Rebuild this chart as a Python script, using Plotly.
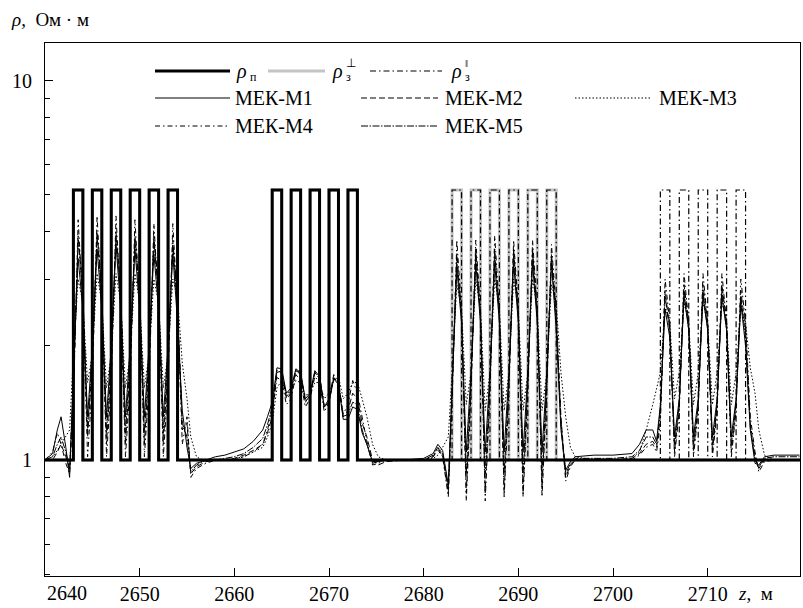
import plotly.graph_objects as go

# ---------------- data ----------------
# step profiles: layer boundaries (z, m) and resistivity (Ohm*m) to the right of each boundary
rho_p_z = [2640, 2643, 2644, 2645, 2646, 2647, 2648, 2649, 2650, 2651, 2652, 2653, 2654,
           2664, 2665, 2666, 2667, 2668, 2669, 2670, 2671, 2672, 2673, 2719.75]
rho_p_v = [1, 5.15, 1, 5.15, 1, 5.15, 1, 5.15, 1, 5.15, 1, 5.15, 1,
           5.15, 1, 5.15, 1, 5.15, 1, 5.15, 1, 5.15, 1, 1]

rho_perp_z = [2640, 2643, 2644, 2645, 2646, 2647, 2648, 2649, 2650, 2651, 2652, 2653, 2654,
              2664, 2665, 2666, 2667, 2668, 2669, 2670, 2671, 2672, 2673,
              2683, 2684, 2685, 2686, 2687, 2688, 2689, 2690, 2691, 2692, 2693, 2694, 2719.75]
rho_perp_v = [1, 5.15, 1, 5.15, 1, 5.15, 1, 5.15, 1, 5.15, 1, 5.15, 1,
              5.15, 1, 5.15, 1, 5.15, 1, 5.15, 1, 5.15, 1,
              5.15, 1, 5.15, 1, 5.15, 1, 5.15, 1, 5.15, 1, 5.15, 1, 1]

rho_par_z = [2640, 2643, 2644, 2645, 2646, 2647, 2648, 2649, 2650, 2651, 2652, 2653, 2654,
             2664, 2665, 2666, 2667, 2668, 2669, 2670, 2671, 2672, 2673,
             2683, 2684, 2685, 2686, 2687, 2688, 2689, 2690, 2691, 2692, 2693, 2694,
             2705, 2706, 2707, 2708, 2709, 2710, 2711, 2712, 2713, 2714, 2719.75]
rho_par_v = [1, 5.15, 1, 5.15, 1, 5.15, 1, 5.15, 1, 5.15, 1, 5.15, 1,
             5.15, 1, 5.15, 1, 5.15, 1, 5.15, 1, 5.15, 1,
             5.15, 1, 5.15, 1, 5.15, 1, 5.15, 1, 5.15, 1, 5.15, 1,
             5.15, 1, 5.15, 1, 5.15, 1, 5.15, 1, 5.15, 1, 1]

# depth samples for the tool responses
z_mek = [2640.0, 2640.8, 2641.3, 2641.7, 2642.2, 2642.6,
         2643.0, 2643.5, 2644.0, 2644.5, 2645.0, 2645.5, 2646.0, 2646.5, 2647.0, 2647.5, 2648.0, 2648.5,
         2649.0, 2649.5, 2650.0, 2650.5, 2651.0, 2651.5, 2652.0, 2652.5, 2653.0, 2653.5, 2654.0, 2654.5,
         2655.0, 2655.4, 2656.0, 2657.0, 2658.0, 2659.0, 2660.0, 2661.0, 2662.0, 2663.0, 2663.5,
         2664.0, 2664.5, 2665.0, 2665.5, 2666.0, 2666.5, 2667.0, 2667.5, 2668.0, 2668.5,
         2669.0, 2669.5, 2670.0, 2670.5, 2671.0, 2671.5, 2672.0, 2672.5, 2673.0, 2673.5,
         2674.0, 2674.6, 2675.2, 2676.0, 2678.0, 2680.0, 2681.0, 2681.5, 2682.0, 2682.6,
         2683.0, 2683.5, 2684.0, 2684.5, 2685.0, 2685.5, 2686.0, 2686.5, 2687.0, 2687.5, 2688.0, 2688.5,
         2689.0, 2689.5, 2690.0, 2690.5, 2691.0, 2691.5, 2692.0, 2692.5, 2693.0, 2693.5, 2694.0, 2694.5,
         2695.0, 2695.5, 2696.0, 2698.0, 2700.0, 2702.0, 2702.8, 2703.5, 2704.2, 2704.6,
         2705.0, 2705.5, 2706.0, 2706.5, 2707.0, 2707.5, 2708.0, 2708.5, 2709.0, 2709.5,
         2710.0, 2710.5, 2711.0, 2711.5, 2712.0, 2712.5, 2713.0, 2713.5, 2714.0, 2714.5,
         2715.0, 2715.4, 2716.0, 2717.0, 2719.7]

mek_m1 = [1.0, 1.04, 1.2, 1.3, 1.08, 0.9,
          1.7, 3.4, 2.5, 1.3, 2.0, 3.6, 2.5, 1.3, 2.0, 3.7, 2.5, 1.3, 2.0, 3.6, 2.5, 1.3, 2.0, 3.5, 2.5, 1.3, 2.0, 3.5, 2.3, 1.35,
          1.08, 0.95, 0.98, 1.0, 1.02, 1.03, 1.05, 1.07, 1.12, 1.2, 1.3,
          1.42, 1.75, 1.74, 1.5, 1.55, 1.74, 1.7, 1.45, 1.5, 1.72, 1.66, 1.38, 1.42, 1.64, 1.58, 1.28, 1.28, 1.38, 1.36, 1.18,
          1.1, 0.99, 0.99, 1.0, 1.0, 1.01, 1.04, 1.1, 1.06, 0.86,
          1.6, 3.2, 2.3, 1.05, 1.7, 3.3, 2.3, 1.05, 1.7, 3.3, 2.3, 1.05, 1.7, 3.3, 2.3, 1.05, 1.7, 3.3, 2.3, 1.05, 1.7, 3.3, 2.2, 1.2,
          0.94, 0.99, 1.02, 1.03, 1.03, 1.04, 1.1, 1.2, 1.2, 1.12,
          1.4, 2.5, 2.1, 1.15, 1.45, 2.7, 2.2, 1.15, 1.45, 2.7, 2.2, 1.15, 1.45, 2.7, 2.2, 1.15, 1.45, 2.6, 2.0, 1.2,
          0.98, 0.97, 1.02, 1.03, 1.03]

mek_m2 = [1.0, 1.0, 1.05, 1.1, 1.02, 0.95,
          1.5, 3.9, 2.8, 1.15, 1.8, 4.0, 2.8, 1.1, 1.8, 4.0, 2.8, 1.1, 1.8, 3.9, 2.8, 1.1, 1.8, 3.9, 2.8, 1.1, 1.8, 3.8, 2.6, 1.2,
          1.25, 0.92, 0.96, 0.99, 1.0, 1.0, 1.01, 1.03, 1.06, 1.1, 1.18,
          1.3, 1.7, 1.72, 1.45, 1.5, 1.72, 1.7, 1.42, 1.48, 1.7, 1.68, 1.38, 1.45, 1.68, 1.62, 1.3, 1.35, 1.5, 1.45, 1.25,
          1.15, 1.0, 0.97, 0.99, 1.0, 1.0, 1.02, 1.06, 1.03, 0.82,
          1.5, 3.5, 2.4, 0.82, 1.6, 3.6, 2.4, 0.82, 1.6, 3.6, 2.4, 0.82, 1.6, 3.6, 2.4, 0.82, 1.6, 3.6, 2.4, 0.84, 1.6, 3.5, 2.4, 1.3,
          0.9, 0.97, 1.0, 1.0, 1.0, 1.01, 1.04, 1.1, 1.12, 1.08,
          1.3, 2.8, 2.2, 1.05, 1.4, 2.9, 2.3, 1.05, 1.4, 2.9, 2.3, 1.05, 1.4, 2.9, 2.3, 1.05, 1.4, 2.8, 2.2, 1.25,
          1.02, 0.95, 1.0, 1.0, 1.0]

mek_m3 = [1.0, 1.02, 1.06, 1.1, 1.15, 1.2,
          1.9, 3.0, 2.6, 1.6, 1.9, 3.1, 2.6, 1.55, 1.9, 3.1, 2.6, 1.55, 1.9, 3.1, 2.6, 1.55, 1.9, 3.0, 2.6, 1.55, 1.9, 3.0, 2.7, 1.8,
          1.45, 1.15, 1.02, 0.99, 1.0, 1.0, 1.01, 1.02, 1.05, 1.08, 1.15,
          1.25, 1.55, 1.62, 1.5, 1.52, 1.62, 1.6, 1.48, 1.5, 1.6, 1.6, 1.45, 1.5, 1.62, 1.66, 1.45, 1.5, 1.6, 1.6, 1.45,
          1.3, 1.1, 1.02, 1.0, 1.0, 1.0, 1.01, 1.03, 1.08, 1.15,
          1.7, 2.9, 2.5, 1.4, 1.7, 3.0, 2.5, 1.35, 1.7, 3.0, 2.5, 1.35, 1.7, 3.0, 2.5, 1.35, 1.7, 3.0, 2.5, 1.35, 1.7, 2.9, 2.6, 1.7,
          1.3, 1.08, 1.02, 1.0, 1.0, 1.01, 1.05, 1.2, 1.4, 1.55,
          1.7, 2.5, 2.3, 1.45, 1.7, 2.6, 2.3, 1.4, 1.7, 2.6, 2.3, 1.4, 1.7, 2.6, 2.3, 1.4, 1.7, 2.5, 2.3, 1.75,
          1.5, 1.2, 1.03, 1.0, 1.0]

mek_m4 = [1.0, 1.05, 1.18, 1.1, 0.98, 0.92,
          1.4, 4.3, 2.6, 1.02, 1.6, 4.4, 2.6, 1.02, 1.6, 4.4, 2.6, 1.02, 1.6, 4.3, 2.6, 1.02, 1.6, 4.2, 2.6, 1.02, 1.6, 4.2, 2.5, 1.1,
          1.3, 0.9, 0.95, 0.98, 1.0, 1.0, 1.0, 1.02, 1.05, 1.1, 1.2,
          1.35, 1.65, 1.62, 1.4, 1.45, 1.68, 1.62, 1.38, 1.45, 1.66, 1.6, 1.34, 1.42, 1.64, 1.6, 1.32, 1.4, 1.62, 1.5, 1.3,
          1.12, 0.97, 0.98, 1.0, 1.0, 1.0, 1.02, 1.08, 1.02, 0.8,
          1.4, 3.8, 2.5, 0.78, 1.5, 3.8, 2.5, 0.78, 1.5, 3.9, 2.5, 0.8, 1.5, 3.8, 2.5, 0.8, 1.5, 3.8, 2.5, 0.8, 1.5, 3.7, 2.5, 1.25,
          0.88, 0.96, 1.0, 1.0, 1.0, 1.0, 1.03, 1.08, 1.1, 1.05,
          1.25, 3.0, 2.3, 1.02, 1.35, 3.1, 2.3, 1.02, 1.35, 3.1, 2.3, 1.02, 1.35, 3.1, 2.3, 1.02, 1.35, 3.0, 2.3, 1.3,
          1.05, 0.93, 0.99, 1.0, 1.0]

mek_m5 = [1.0, 1.02, 1.1, 1.15, 1.05, 0.95,
          1.6, 3.8, 2.7, 1.2, 1.9, 3.9, 2.7, 1.18, 1.9, 3.9, 2.7, 1.18, 1.9, 3.8, 2.7, 1.18, 1.9, 3.8, 2.7, 1.18, 1.9, 3.7, 2.5, 1.25,
          1.15, 0.93, 0.97, 1.0, 1.0, 1.01, 1.02, 1.04, 1.08, 1.14, 1.24,
          1.38, 1.72, 1.7, 1.47, 1.52, 1.72, 1.68, 1.43, 1.48, 1.7, 1.64, 1.38, 1.43, 1.65, 1.6, 1.3, 1.32, 1.42, 1.4, 1.2,
          1.1, 0.98, 0.99, 1.0, 1.0, 1.0, 1.03, 1.08, 1.04, 0.84,
          1.5, 3.4, 2.4, 0.92, 1.6, 3.5, 2.4, 0.92, 1.6, 3.5, 2.4, 0.92, 1.6, 3.5, 2.4, 0.92, 1.6, 3.5, 2.4, 0.92, 1.6, 3.4, 2.3, 1.25,
          0.92, 0.98, 1.01, 1.01, 1.01, 1.02, 1.06, 1.15, 1.15, 1.1,
          1.35, 2.7, 2.2, 1.1, 1.4, 2.8, 2.2, 1.1, 1.4, 2.8, 2.2, 1.1, 1.4, 2.8, 2.2, 1.1, 1.4, 2.7, 2.1, 1.22,
          1.0, 0.96, 1.01, 1.02, 1.02]

x_tick_vals = [2650, 2660, 2670, 2680, 2690, 2700, 2710]
y_tick_vals = [1, 10]
y_minor_vals = [0.5, 0.6, 0.7, 0.8, 0.9, 2, 3, 4, 5, 6, 7, 8, 9]

for arr in (mek_m1, mek_m2, mek_m3, mek_m4, mek_m5):
    assert len(arr) == len(z_mek), (len(arr), len(z_mek))

# ---------------- styles ----------------
FONT = "Liberation Serif"
W, H = 803, 608
ML, MR, MT, MB = 45, 3, 43, 32
PW, PH = W - ML - MR, H - MT - MB


def px(x):
    return (x - ML) / PW


def py(y):
    return (H - MB - y) / PH


DASH_PAR = "6px,3px,1.5px,3px"
DASH_M2 = "6px,3px"
DASH_M3 = "1.5px,2px"
DASH_M4 = "5px,3px,1.5px,3px"
DASH_M5 = "7px,1.5px,1.5px,1.5px"
GRAY = "#c4c4c4"

fig = go.Figure()

fig.add_trace(go.Scatter(x=rho_perp_z, y=rho_perp_v, mode="lines", line_shape="hv",
                         line=dict(color=GRAY, width=3)))
fig.add_trace(go.Scatter(x=rho_par_z, y=rho_par_v, mode="lines", line_shape="hv",
                         line=dict(color="black", width=1.2, dash=DASH_PAR)))
for vals, dash in ((mek_m3, DASH_M3), (mek_m2, DASH_M2), (mek_m4, DASH_M4),
                   (mek_m5, DASH_M5), (mek_m1, "solid")):
    fig.add_trace(go.Scatter(x=z_mek, y=vals, mode="lines",
                             line=dict(color="black", width=1, dash=dash)))
fig.add_trace(go.Scatter(x=rho_p_z, y=rho_p_v, mode="lines", line_shape="hv",
                         line=dict(color="black", width=3)))

# ---------------- manual legend ----------------
shapes = []
annotations = []


def leg_line(x0, x1, y, color, width, dash):
    shapes.append(dict(type="line", xref="paper", yref="paper",
                       x0=px(x0), x1=px(x1), y0=py(y), y1=py(y),
                       line=dict(color=color, width=width, dash=dash)))


def text(x, y, s, size=20, anchor="left"):
    annotations.append(dict(xref="paper", yref="paper", x=px(x), y=py(y), text=s,
                            showarrow=False, xanchor=anchor, yanchor="middle",
                            xshift=-2, font=dict(family=FONT, size=size, color="black")))


r1, r2, r3 = 71, 98, 126
leg_line(155, 230, r1, "black", 3, "solid")
text(236, r1, "<i>ρ</i>")
text(250, r1 + 6, "п", size=12)
leg_line(268, 325, r1, GRAY, 3, "solid")
text(332, r1, "<i>ρ</i>")
text(346, r1 + 6, "з", size=12)
text(346, r1 - 8, "⊥", size=12)
leg_line(370, 442, r1, "black", 1.2, DASH_PAR)
text(451, r1, "<i>ρ</i>")
text(465, r1 + 6, "з", size=12)
text(465, r1 - 8, "ǁ", size=11)

leg_line(155, 230, r2, "black", 1, "solid")
text(235, r2, "МЕК-М1")
leg_line(361, 438, r2, "black", 1, DASH_M2)
text(445, r2, "МЕК-М2")
leg_line(575, 650, r2, "black", 1, DASH_M3)
text(659, r2, "МЕК-М3")

leg_line(155, 230, r3, "black", 1, DASH_M4)
text(235, r3, "МЕК-М4")
leg_line(361, 438, r3, "black", 1, DASH_M5)
text(445, r3, "МЕК-М5")

# axis captions
text(11, 20, "<i>ρ</i>,  Ом · м", size=19)
text(738, 593, "<i>z</i>,  м", size=19)
text(47, 593, "2640", size=20)

fig.update_layout(
    width=W, height=H,
    margin=dict(l=ML, r=MR, t=MT, b=MB, autoexpand=False),
    paper_bgcolor="white", plot_bgcolor="white",
    showlegend=False,
    font=dict(family=FONT, size=20, color="black"),
    shapes=shapes, annotations=annotations,
    xaxis=dict(range=[2640, 2719.75], tickmode="array", tickvals=x_tick_vals,
               ticks="inside", ticklen=8, tickcolor="black", tickwidth=1,
               showline=True, mirror=True, linecolor="black", linewidth=1,
               showgrid=False, zeroline=False, automargin=False,
               tickfont=dict(family=FONT, size=20, color="black")),
    yaxis=dict(type="log", range=[-0.3058, 1.0994], tickmode="array",
               tickvals=y_tick_vals, ticktext=["1", "10"],
               ticks="inside", ticklen=8, tickcolor="black", tickwidth=1,
               minor=dict(tickmode="array", tickvals=y_minor_vals, ticks="inside",
                          ticklen=5, tickcolor="black", showgrid=False),
               showline=True, mirror=True, linecolor="black", linewidth=1,
               showgrid=False, zeroline=False, automargin=False, ticklabelstandoff=8,
               tickfont=dict(family=FONT, size=20, color="black")),
)

fig.write_html("out.html", config={"displayModeBar": False},
               post_script="document.body.style.margin='0';document.body.style.overflow='hidden';")
